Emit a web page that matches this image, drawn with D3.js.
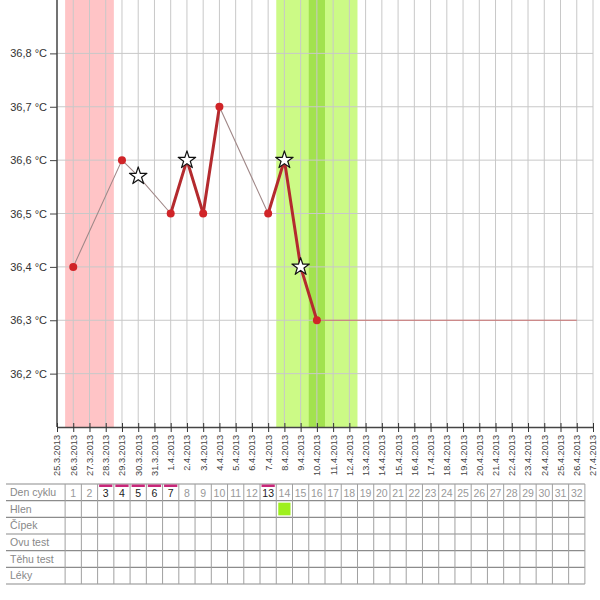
<!DOCTYPE html>
<html><head><meta charset="utf-8">
<script src="https://cdn.jsdelivr.net/npm/d3@7"></script>
<style>body{margin:0;background:#fff}svg{display:block;font-family:"Liberation Sans",Arial,sans-serif}</style>
</head><body><svg id="c" width="600" height="600"></svg>
<script>
// ---- data ----
const pointDates = ["2013-03-26","2013-03-29","2013-03-30","2013-04-01","2013-04-02","2013-04-03","2013-04-04","2013-04-07","2013-04-08","2013-04-09","2013-04-10"];
const pointTemps = [36.4,36.6,36.57,36.5,36.6,36.5,36.7,36.5,36.6,36.4,36.3];
const pointMarkers = ["dot","dot","star","dot","star","dot","dot","dot","star","star","dot"];
const segmentStyles = ["thin","thin","thin","thick","thick","thick","thin","thick","thick","thick"];
const flatLine = {from:"2013-04-10", to:"2013-04-26", temp:36.3};
const periodDays = ["2013-03-26","2013-03-28"];
const fertileDays = ["2013-04-08","2013-04-12"];
const ovulationDay = "2013-04-10";
const yTicks = [36.2,36.3,36.4,36.5,36.6,36.7,36.8];
const startDate = "2013-03-25", endDate = "2013-04-27";
const rowLabels = ["Den cyklu","Hlen","Čípek","Ovu test","Těhu test","Léky"];
const cycleDays = d3.range(1,33);
const markedDays = [3,4,5,6,7,13];
const hlenDays = [14];

// ---- scales ----
const svg = d3.select("#c");
const parse = d3.utcParse("%Y-%m-%d");
const x = d3.scaleUtc().domain([parse(startDate), parse(endDate)]).range([57, 593]);
const y = d3.scaleLinear().domain([36.1, 36.9]).range([427, 0]);
const dayMs = 864e5;
const half = d => new Date(d.getTime() - dayMs/2);
const halfAfter = d => new Date(d.getTime() + dayMs/2);

// shading
svg.append("rect").attr("x", x(half(parse(periodDays[0])))).attr("y", 0)
  .attr("width", x(halfAfter(parse(periodDays[1]))) - x(half(parse(periodDays[0])))).attr("height", y(36.1))
  .attr("fill", "#ffc4c6");
svg.append("rect").attr("x", x(half(parse(fertileDays[0])))).attr("y", 0)
  .attr("width", x(halfAfter(parse(fertileDays[1]))) - x(half(parse(fertileDays[0])))).attr("height", y(36.1))
  .attr("fill", "#ccfa86");
svg.append("rect").attr("x", x(half(parse(ovulationDay)))).attr("y", 0)
  .attr("width", x(halfAfter(parse(ovulationDay))) - x(half(parse(ovulationDay)))).attr("height", y(36.1))
  .attr("fill", "#a2e24e");

// grid
const allDays = d3.utcDay.range(parse(startDate), d3.utcDay.offset(parse(endDate),1));
svg.append("g").selectAll("line").data(allDays.slice(1)).join("line")
  .attr("x1", d => x(d)).attr("x2", d => x(d)).attr("y1", 0).attr("y2", y(36.1))
  .attr("stroke", "#c8c8c8").attr("stroke-width", 1);
svg.append("g").selectAll("line").data(yTicks).join("line")
  .attr("x1", x.range()[0]).attr("x2", x.range()[1]).attr("y1", d => y(d)).attr("y2", d => y(d))
  .attr("stroke", "#c8c8c8").attr("stroke-width", 1);

// axes
const yAxis = d3.axisLeft(y).tickValues(yTicks).tickSize(7).tickPadding(3)
  .tickFormat(d => d3.format(".1f")(d).replace(".", ",") + " °C");
const gy = svg.append("g").attr("transform", `translate(${x.range()[0]},0)`).call(yAxis);
gy.select(".domain").attr("stroke", "#444").attr("stroke-width", 1.5).attr("d", `M0,0V${y(36.1)}`);
gy.selectAll(".tick line").attr("stroke", "#444");
gy.selectAll("text").attr("font-size", 11).attr("fill", "#333").attr("font-family", "Liberation Sans, Arial");

const xAxis = d3.axisBottom(x).tickValues(allDays).tickSize(5).tickSizeOuter(0)
  .tickFormat(d3.utcFormat("%-d.%-m.%Y"));
const gx = svg.append("g").attr("transform", `translate(0,${y(36.1)})`).call(xAxis);
gx.select(".domain").attr("stroke", "#444").attr("stroke-width", 1.5);
gx.selectAll(".tick line").attr("stroke", "#333").attr("y1", -4);
gx.selectAll("text").attr("font-size", 9.2).attr("fill", "#444").attr("font-family", "Liberation Sans, Arial")
  .attr("transform", "rotate(-90)").attr("text-anchor", "end").attr("dx", "-8").attr("dy", "0.32em").attr("x", 0).attr("y", 0);

// flat line
svg.append("line").attr("x1", x(parse(flatLine.from))).attr("x2", x(parse(flatLine.to)))
  .attr("y1", y(flatLine.temp)).attr("y2", y(flatLine.temp))
  .attr("stroke", "#c87070").attr("stroke-width", 1.2);

// segments
const pts = pointDates.map((d,i) => ({d: parse(d), t: pointTemps[i], m: pointMarkers[i]}));
const segs = segmentStyles.map((s,i) => ({a: pts[i], b: pts[i+1], s}));
svg.append("g").selectAll("line").data(segs).join("line")
  .attr("x1", d => x(d.a.d)).attr("y1", d => y(d.a.t)).attr("x2", d => x(d.b.d)).attr("y2", d => y(d.b.t))
  .attr("stroke", d => d.s === "thick" ? "#b42a2e" : "#a08888")
  .attr("stroke-width", d => d.s === "thick" ? 3 : 1.1)
  .attr("stroke-linecap", "round");

// markers
svg.append("g").selectAll("circle").data(pts.filter(p => p.m === "dot")).join("circle")
  .attr("cx", d => x(d.d)).attr("cy", d => y(d.t)).attr("r", 4).attr("fill", "#d02428");
const star = d3.symbol().type(d3.symbolStar).size(95);
svg.append("g").selectAll("path").data(pts.filter(p => p.m === "star")).join("path")
  .attr("d", star).attr("transform", d => `translate(${x(d.d)},${y(d.t)})`)
  .attr("fill", "#fff").attr("stroke", "#111").attr("stroke-width", 1.2).attr("stroke-linejoin", "round");

// ---- table ----
const tTop = 484, rowH = 16.67, tLeft = 6;
const colX0 = n => x(new Date(parse(startDate).getTime() + (n - 0.5) * dayMs));
const tRight = colX0(33);
const tb = svg.append("g");
rowLabels.forEach((lab, r) => {
  tb.append("text").attr("x", 10).attr("y", tTop + r*rowH + rowH/2).attr("dy", "0.35em")
    .attr("font-size", 10.5).attr("fill", "#888").text(lab);
});
// hlen fills
tb.selectAll("rect.h").data(hlenDays).join("rect")
  .attr("x", d => colX0(d) + 2).attr("width", d => colX0(d+1) - colX0(d) - 4)
  .attr("y", tTop + rowH + 2).attr("height", rowH - 4).attr("fill", "#9ef01e");
// horizontal lines
tb.selectAll("line.hr").data(d3.range(rowLabels.length + 1)).join("line")
  .attr("x1", tLeft).attr("x2", tRight).attr("y1", r => tTop + r*rowH).attr("y2", r => tTop + r*rowH)
  .attr("stroke", "#8c8c8c").attr("stroke-width", 1.2);
// vertical lines
tb.selectAll("line.vr").data(d3.range(1, 34)).join("line")
  .attr("x1", n => colX0(n)).attr("x2", n => colX0(n)).attr("y1", tTop).attr("y2", tTop + rowLabels.length*rowH)
  .attr("stroke", "#a0a0a0").attr("stroke-width", 1);
// day numbers
tb.selectAll("text.dn").data(cycleDays).join("text")
  .attr("x", n => (colX0(n) + colX0(n+1))/2).attr("y", tTop + rowH/2 + 1).attr("dy", "0.35em")
  .attr("text-anchor", "middle").attr("font-size", 10.5)
  .attr("fill", n => markedDays.includes(n) ? "#222" : "#999").text(n => n);
tb.selectAll("rect.mk").data(markedDays).join("rect")
  .attr("x", n => colX0(n) + 1.5).attr("width", n => colX0(n+1) - colX0(n) - 3)
  .attr("y", tTop + 0.5).attr("height", 2.5).attr("fill", "#c8287a");
</script></body></html>
